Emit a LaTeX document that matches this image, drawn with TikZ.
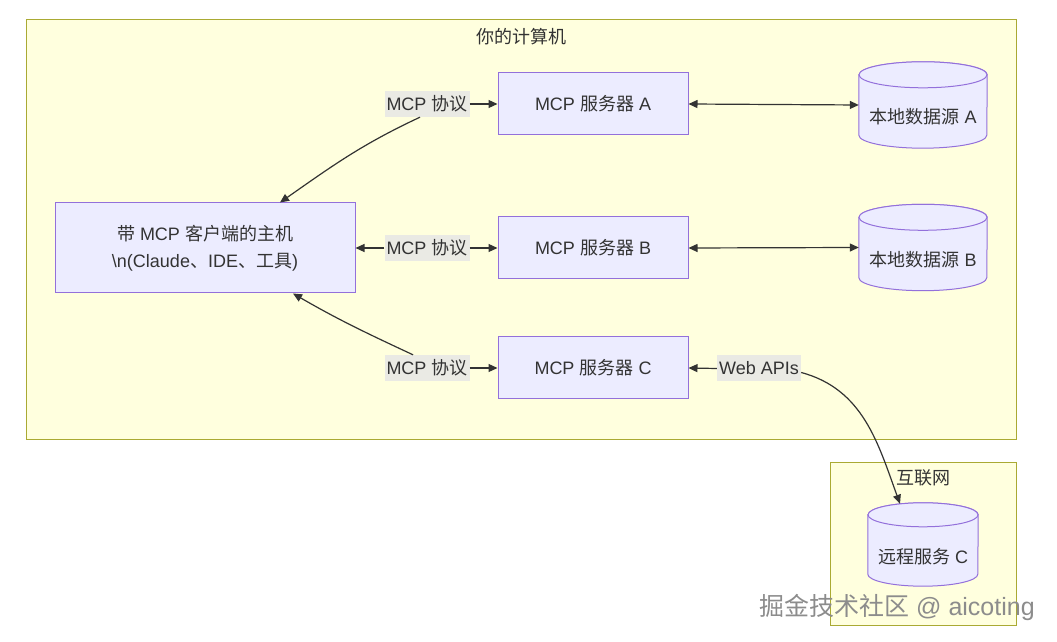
\documentclass[tikz,border=0pt]{standalone}
\usepackage{fontspec}
\setmainfont{Liberation Sans}
\newfontfamily\cjk{Noto Sans CJK SC}
\usetikzlibrary{arrows.meta}
\definecolor{clusterfill}{HTML}{FFFFDE}
\definecolor{clusterline}{HTML}{AAAA33}
\definecolor{nodefill}{HTML}{ECECFF}
\definecolor{nodeline}{HTML}{9370DB}
\definecolor{txt}{HTML}{333333}
\definecolor{lblbg}{HTML}{EAEAE4}
\definecolor{wmgray}{HTML}{8C8C8C}
\tikzset{
  cluster/.style={draw=clusterline, fill=clusterfill, line width=1pt, inner sep=0pt, anchor=south west},
  box/.style={draw=nodeline, fill=nodefill, line width=1pt, inner sep=0pt, align=center},
  cylst/.style={draw=nodeline, fill=nodefill, line width=1pt},
  cylnode/.style={inner sep=0pt},
  lbl/.style={fill=lblbg, inner sep=0pt, minimum height=26pt},
  arr/.style={draw=txt, line width=1.2pt, -{Triangle[length=9pt,width=8pt]}},
  darr/.style={draw=txt, line width=1.2pt, {Triangle[length=9pt,width=8pt]}-{Triangle[length=9pt,width=8pt]}},
}
\newcommand\cylbody[3]{%
  \path[cylst] ([yshift=-#3]#1.north west) -- ([yshift=#3]#1.south west)
    arc[start angle=180,end angle=360,x radius=#2,y radius=#3]
    -- ([yshift=-#3]#1.north east)
    arc[start angle=0,end angle=180,x radius=#2,y radius=#3] -- cycle;
  \path[cylst] ([yshift=-#3]#1.north) ellipse[x radius=#2,y radius=#3];}
\begin{document}
\begin{tikzpicture}[x=1pt,y=1pt, font=\fontsize{18}{22}\selectfont, text=txt]
\useasboundingbox (0,0) rectangle (1057,642);
\fill[white] (0,0) rectangle (1057,642);
% clusters
\node[cluster, minimum width=990pt, minimum height=420pt] (pc) at (26,202) {};
\node (pct) at (521,605) {\cjk 你的计算机};
\node[cluster, minimum width=186pt, minimum height=163pt] (net) at (830,16) {};
\node (nett) at (923,164) {\cjk 互联网};
% host
\node[box, minimum width=300pt, minimum height=90pt, font=\fontsize{18}{27}\selectfont] (host) at (205,394)
  {{\cjk 带} MCP {\cjk 客户端的主机}\\\textbackslash n(Claude{\cjk 、}IDE{\cjk 、工具})};
% servers
\node[box, minimum width=190pt, minimum height=62pt] (sA) at (593,538) {MCP {\cjk 服务器} A};
\node[box, minimum width=190pt, minimum height=62pt] (sB) at (593,394) {MCP {\cjk 服务器} B};
\node[box, minimum width=190pt, minimum height=62pt] (sC) at (593,274) {MCP {\cjk 服务器} C};
% cylinders
\node[cylnode, minimum width=128pt, minimum height=86pt] (cA) at (923,537) {};
\cylbody{cA}{64}{13}
\node (cAt) at (923,525) {{\cjk 本地数据源} A};
\node[cylnode, minimum width=128pt, minimum height=86pt] (cB) at (923,394.5) {};
\cylbody{cB}{64}{13}
\node (cBt) at (923,382) {{\cjk 本地数据源} B};
\node[cylnode, minimum width=110pt, minimum height=83pt] (cR) at (923,97.5) {};
\cylbody{cR}{55}{12}
\node (cRt) at (923,85) {{\cjk 远程服务} C};
% labels
\node[lbl, minimum width=85pt] (lA) at (427,538) {MCP {\cjk 协议}};
\node[lbl, minimum width=85pt] (lB) at (427,394) {MCP {\cjk 协议}};
\node[lbl, minimum width=85pt] (lC) at (427,274) {MCP {\cjk 协议}};
\node[lbl, minimum width=84pt] (lW) at (759,273.5) {Web APIs};
% edges
\draw[darr] (sA.east) -- (cA.west);
\draw[darr] (sB.east) -- (cB.west);
\draw[arr] (lA.east) -- (sA.west);
\draw[arr] ([xshift=-7pt]lA.south) to[out=205,in=35] ([xshift=75pt]host.north);
\draw[arr] (lB.west) -- (host.east);
\draw[arr] (lB.east) -- (sB.west);
\draw[arr] ([xshift=-14pt]lC.north) to[out=155,in=-30] ([xshift=88pt]host.south);
\draw[arr] (lC.east) -- (sC.west);
\draw[arr] (lW.west) -- (sC.east);
\draw[arr] ([yshift=-4pt]lW.east) to[out=-15,in=110] ([xshift=-23pt,yshift=-1pt]cR.north);
% watermark
\node[font=\fontsize{25}{30}\selectfont, text=wmgray] (wm) at (897,35) {{\cjk 掘金技术社区} @ aicoting};
\end{tikzpicture}
\end{document}
